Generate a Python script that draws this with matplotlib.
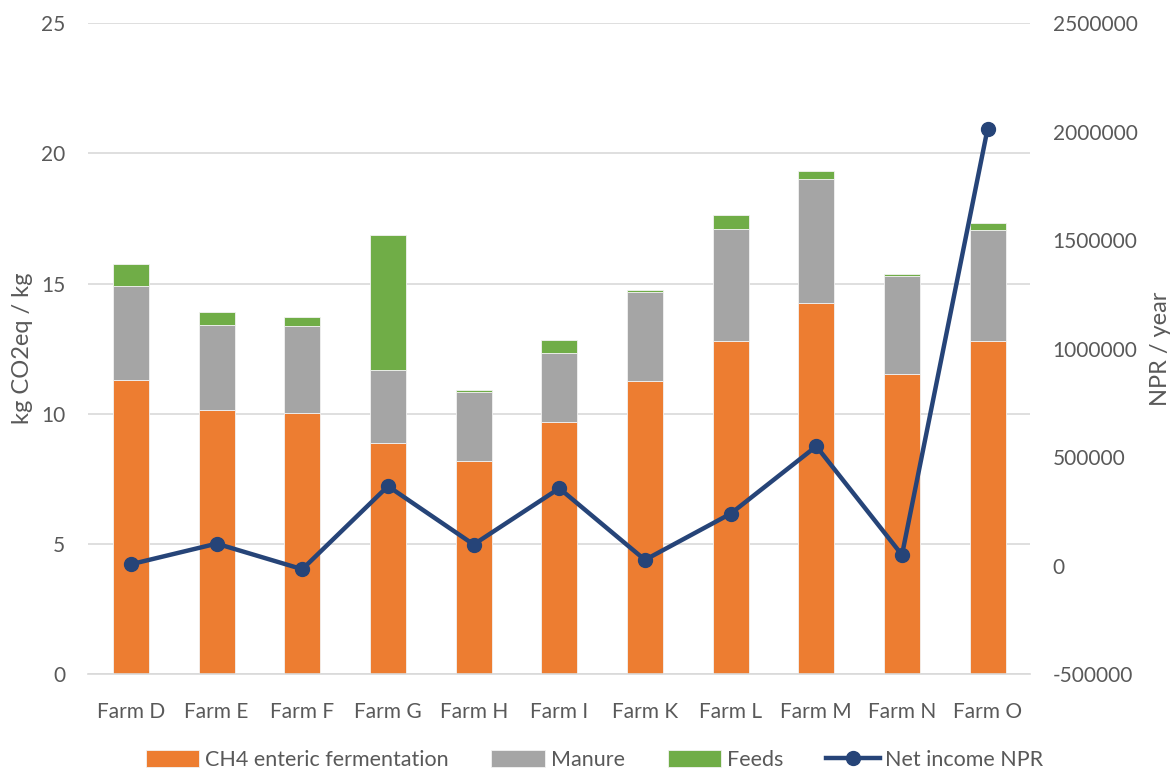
import matplotlib
matplotlib.use("Agg")
import matplotlib.pyplot as plt
import numpy as np

plt.rcParams['font.family'] = ['Lato', 'DejaVu Sans']

farms = ["Farm D", "Farm E", "Farm F", "Farm G", "Farm H", "Farm I",
         "Farm K", "Farm L", "Farm M", "Farm N", "Farm O"]
ch4_enteric = [11.28, 10.13, 10.01, 8.86, 8.19, 9.67, 11.26, 12.80, 14.26, 11.54, 12.80]
manure = [3.64, 3.28, 3.35, 2.82, 2.64, 2.65, 3.41, 4.28, 4.77, 3.74, 4.26]
feeds = [0.85, 0.49, 0.37, 5.17, 0.09, 0.51, 0.09, 0.56, 0.28, 0.07, 0.26]
net_income = [6000, 101000, -17000, 366000, 97000, 356000, 26000, 239000, 550000, 49000, 2015000]

left_ticks = [0, 5, 10, 15, 20, 25]
right_ticks = [-500000, 0, 500000, 1000000, 1500000, 2000000, 2500000]

c_orange = "#ED7D31"
c_gray = "#A5A5A5"
c_green = "#70AD47"
c_line = "#264478"
c_text = "#595959"

fig = plt.figure(figsize=(11.75, 7.7), dpi=100)
ax = fig.add_axes([0.075, 0.1247, 0.802, 0.845])

x = np.arange(len(farms))
w = 0.42
ch4 = np.array(ch4_enteric)
man = np.array(manure)
fd = np.array(feeds)
edge = dict(edgecolor="#f2f2f2", linewidth=0.6)
b1 = ax.bar(x, ch4, w, color=c_orange, label="CH4 enteric fermentation", zorder=2, **edge)
b2 = ax.bar(x, man, w, bottom=ch4, color=c_gray, label="Manure", zorder=2, **edge)
b3 = ax.bar(x, fd, w, bottom=ch4 + man, color=c_green, label="Feeds", zorder=2, **edge)

ax.set_xlim(-0.5, len(farms) - 0.5)
ax.set_ylim(0, 25)
ax.set_yticks(left_ticks)
ax.yaxis.grid(True, color="#d9d9d9", linewidth=1.2, zorder=0)
ax.set_axisbelow(True)
for s in ["top", "right", "left"]:
    ax.spines[s].set_visible(False)
ax.spines["bottom"].set_color("#d9d9d9")
ax.spines["bottom"].set_linewidth(1.2)
ax.set_xticks(x)
ax.set_xticklabels(farms)
ax.tick_params(axis="both", length=0, labelsize=15, colors=c_text)
ax.tick_params(axis="x", pad=20)
ax.tick_params(axis="y", pad=16.5)
ax.set_ylabel("kg CO2eq / kg", fontsize=17, color=c_text, labelpad=6)

ax2 = ax.twinx()
ax2.set_ylim(-500000, 2500000)
ax2.set_yticks(right_ticks)
ax2.set_yticklabels([str(t) for t in right_ticks])
for s in ax2.spines.values():
    s.set_visible(False)
ax2.tick_params(axis="y", length=0, labelsize=15, colors=c_text, pad=16)
ax2.set_ylabel("NPR / year", fontsize=17, color=c_text, labelpad=9)
ln, = ax2.plot(x, net_income, color=c_line, linewidth=3.2, marker="o",
               markersize=10, label="Net income NPR", zorder=3)

fig.legend(handles=[b1, b2, b3, ln], loc="center", bbox_to_anchor=(0.506, 0.013),
           ncol=4, frameon=False, fontsize=15.5, handlelength=2.5, handleheight=0.8,
           columnspacing=2.0, handletextpad=0.25, labelcolor=c_text)

fig.savefig("out.png", dpi=100)
